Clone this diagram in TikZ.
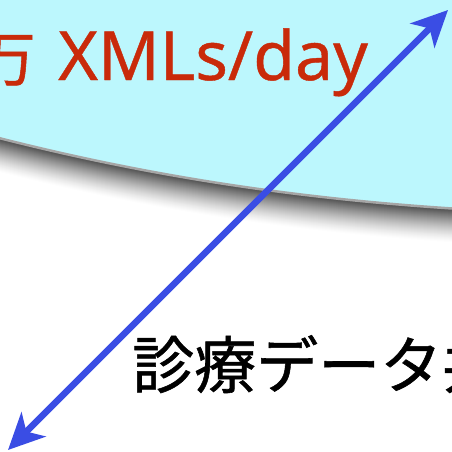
\documentclass[tikz,border=0pt]{standalone}
\usepackage{fontspec}
\setmainfont[FakeBold=0.6]{Noto Sans}
\newfontfamily\cjk[FakeBold=0.9]{Noto Sans CJK JP}
\usetikzlibrary{arrows.meta}
\definecolor{skycyan}{HTML}{BCF7FD}
\definecolor{titlered}{HTML}{C92A0A}
\definecolor{arrowblue}{HTML}{3A4DE4}
\tikzset{
  bigarrow/.style={arrowblue, line width=6.5pt, >={Stealth[length=36pt,width=34pt,inset=10pt]}, <->},
}
\begin{document}
\begin{tikzpicture}[x=1pt,y=-1pt]
\useasboundingbox (0,0) rectangle (452,451);
\begin{scope}
\clip (0,0) rectangle (452,451);
\foreach \i in {34,33,...,1} {
  \pgfmathsetmacro{\s}{72*(1-\i/35)^1.4}
  \fill[black!\s!white] (-5,{137+\i}) .. controls (151,{177+\i}) and (301,{199+\i}) .. (460,{209+\i}) -- (460,-10) -- (-5,-10) -- cycle;
}
\fill[skycyan] (-5,137) .. controls (151,177) and (301,199) .. (460,209) -- (460,-10) -- (-5,-10) -- cycle;
\draw[black!35, line width=2.5pt] (-5,137) .. controls (151,177) and (301,199) .. (460,209);
\node[anchor=base west, text=titlered, font=\fontsize{68}{68}\selectfont, inner sep=0pt] (rate) at (58,80) {XMLs/day};
\node[anchor=base east, text=titlered, font=\cjk\fontsize{60}{60}\selectfont, inner sep=0pt] (man) at (36,81) {万};
\node[anchor=base west, font=\cjk\fontsize{62}{62}\selectfont, inner sep=0pt] (label) at (132,388) {診療データ共有};
\coordinate (tipA) at (448,10);
\coordinate (tipB) at (8,450);
\draw[bigarrow] (tipB) -- (tipA);
\end{scope}
\end{tikzpicture}
\end{document}
